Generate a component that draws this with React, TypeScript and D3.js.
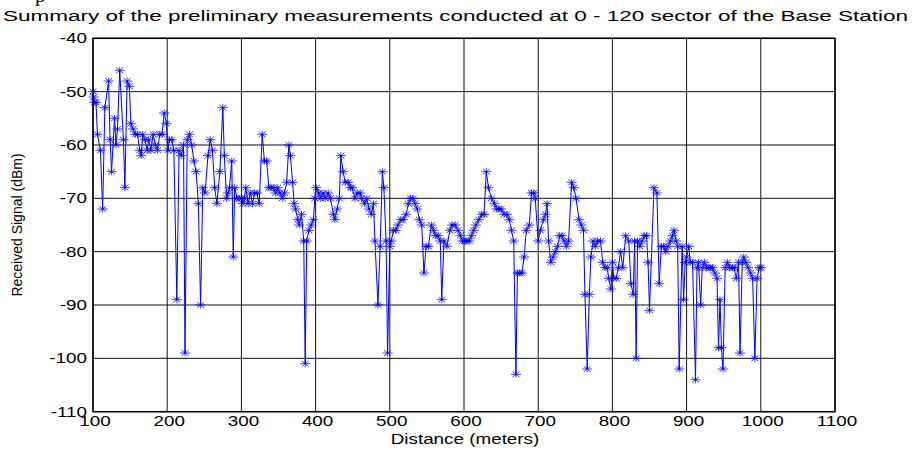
import React from "react";
import * as d3 from "d3";

const distance: number[] = [
  100,101,102,104,106,110,113,116,121,123,125,129,131,133,136,141,143,146,149,151,154,157,160,163,165,167,170,173,175,178,181,184,187,190,193,196,199,
  201,203,206,209,213,216,219,222,224,227,230,233,236,239,242,245,248,251,255,258,261,264,267,271,275,277,280,282,284,287,289,291,294,297,
  300,302,304,306,309,312,315,318,321,324,328,331,334,337,340,343,346,349,352,355,358,361,364,366,369,371,373,376,378,381,384,386,388,391,394,397,399,
  401,404,407,410,413,417,420,424,426,429,432,434,437,440,444,447,449,453,456,460,462,466,469,472,475,478,480,484,487,490,492,495,497,
  500,502,505,508,511,515,518,522,525,528,531,534,537,540,543,546,549,552,556,559,562,565,568,570,573,577,581,584,588,592,595,598,
  601,604,607,610,613,616,620,624,627,630,633,637,641,644,647,650,654,658,661,664,667,670,672,675,678,681,684,688,691,694,696,
  700,703,707,710,712,714,717,720,723,726,729,732,735,738,741,745,748,751,755,758,761,763,766,769,771,774,777,780,784,787,790,793,795,798,
  800,802,805,808,811,814,818,822,825,828,830,832,834,837,840,843,846,848,850,856,860,863,866,869,872,875,878,881,883,886,888,890,894,896,898,
  900,903,905,908,912,914,916,919,921,924,927,930,932,935,938,941,943,945,947,949,952,955,958,962,964,967,970,972,975,977,980,983,986,989,992,995,998,1000,
];

const signal: number[] = [
  -50,-51,-52,-52,-58,-61,-72,-53,-48,-59,-65,-55,-60,-57,-46,-59,-68,-48,-49,-56,-57,-58,-58,-61,-62,-58,-59,-61,-59,-61,-58,-60,-61,-58,-58,-54,-56,
  -61,-59,-59,-61,-89,-61,-62,-60,-99,-59,-58,-60,-63,-65,-71,-90,-68,-69,-62,-59,-61,-68,-71,-65,-53,-62,-70,-69,-68,-63,-81,-68,-70,-70,
  -70,-71,-70,-68,-71,-69,-71,-69,-69,-71,-58,-63,-63,-68,-68,-68,-69,-68,-69,-70,-69,-67,-60,-62,-67,-71,-72,-74,-75,-73,-78,-101,-78,-76,-75,-74,-70,
  -68,-69,-70,-69,-70,-69,-70,-73,-74,-72,-70,-62,-65,-67,-67,-68,-68,-70,-69,-69,-70,-71,-70,-72,-73,-71,-78,-90,-79,-65,-68,-78,-99,
  -79,-78,-76,-76,-75,-74,-74,-73,-71,-70,-70,-71,-72,-74,-75,-84,-79,-79,-75,-76,-77,-77,-78,-89,-78,-79,-76,-75,-75,-76,-77,-78,
  -78,-78,-78,-77,-76,-75,-74,-73,-73,-65,-68,-70,-71,-72,-72,-72,-73,-73,-74,-76,-78,-103,-84,-84,-84,-81,-76,-75,-69,-69,-70,
  -78,-76,-74,-73,-71,-78,-82,-81,-80,-79,-77,-77,-78,-79,-78,-67,-68,-70,-74,-75,-76,-88,-102,-88,-81,-78,-79,-78,-78,-82,-83,-83,-85,-87,
  -82,-85,-85,-83,-80,-83,-77,-78,-86,-88,-78,-100,-78,-79,-78,-77,-77,-82,-91,-68,-69,-86,-79,-79,-80,-79,-78,-77,-76,-78,-79,-102,-79,-89,-82,
  -81,-79,-82,-82,-104,-83,-82,-90,-83,-82,-83,-83,-83,-83,-84,-85,-98,-89,-98,-102,-83,-82,-83,-83,-83,-85,-82,-99,-82,-81,-82,-83,-84,-85,-100,-85,-83,-83,
];

const xTicks: number[] = [100, 200, 300, 400, 500, 600, 700, 800, 900, 1000, 1100];
const yTicks: number[] = [-40, -50, -60, -70, -80, -90, -100, -110];

const titleText = "Summary of the preliminary measurements conducted at 0 -  120 sector of the Base Station";
const xLabel = "Distance (meters)";
const yLabel = "Received Signal (dBm)";

const W = 914;
const H = 450;
const L = 93;
const R = 835;
const T = 38.3;
const B = 411.7;
const SX = 1.3;
const FONT = "Arial, 'Liberation Sans', Helvetica, sans-serif";
const BLUE = "#0000ff";

function SText(props: { x: number; y: number; anchor?: string; size?: number; children: React.ReactNode; sx?: number; family?: string }) {
  const { x, y, anchor = "start", size = 14, sx = SX, family = FONT } = props;
  return (
    <text
      transform={`translate(${x},${y}) scale(${sx},1)`}
      textAnchor={anchor}
      fontFamily={family}
      fontSize={size}
      fill="#000"
    >
      {props.children}
    </text>
  );
}

export default function App() {
  const x = d3.scaleLinear().domain([100, 1100]).range([L, R]);
  const y = d3.scaleLinear().domain([-110, -40]).range([B, T]);
  const pts = distance.map((d, i) => [x(d), y(signal[i])] as [number, number]);
  const line = d3.line<[number, number]>().x((p) => p[0]).y((p) => p[1])(pts) || "";
  const hx = 5, hy = 3.5, dx = 3.5, dy = 2.8;
  const star = `M${-hx},0H${hx}M0,${-hy}V${hy}M${-dx},${-dy}L${dx},${dy}M${-dx},${dy}L${dx},${-dy}`;

  return (
    <svg width={W} height={H} style={{ position: "absolute", left: 0, top: 0, background: "#fff" }}>
      <rect x={0} y={0} width={W} height={H} fill="#fff" />
      <SText x={35} y={1.5} size={16} family="'Liberation Serif', 'Times New Roman', serif">p</SText>
      <text x={3} y={21} fontFamily={FONT} fontSize={15.5} textLength={905} lengthAdjust="spacingAndGlyphs">{titleText}</text>
      {xTicks.map((t) => (
        <line key={"gx" + t} x1={x(t)} x2={x(t)} y1={T} y2={B} stroke="#111" strokeWidth={1} />
      ))}
      {yTicks.map((t) => (
        <line key={"gy" + t} x1={L} x2={R} y1={y(t)} y2={y(t)} stroke="#111" strokeWidth={1} />
      ))}
      <rect x={L} y={T} width={R - L} height={B - T} fill="none" stroke="#000" strokeWidth={1.5} />
      {yTicks.map((t) => (
        <SText key={"ly" + t} x={87} y={y(t) + 5} anchor="end" size={14.5}>{String(t)}</SText>
      ))}
      {xTicks.map((t) => (
        <SText key={"lx" + t} x={x(t) + 2} y={426} anchor="middle" size={14.5}>{String(t)}</SText>
      ))}
      <SText x={465} y={444} anchor="middle" size={14.5}>{xLabel}</SText>
      <text transform={`translate(22,${(T + B) / 2}) rotate(-90)`} textAnchor="middle" fontFamily={FONT} fontSize={14}>{yLabel}</text>
      <path d={line} fill="none" stroke={BLUE} strokeWidth={1} />
      {pts.map((p, i) => (
        <path key={"m" + i} d={star} transform={`translate(${p[0]},${p[1]})`} fill="none" stroke={BLUE} strokeWidth={1} strokeOpacity={0.75} />
      ))}
    </svg>
  );
}
